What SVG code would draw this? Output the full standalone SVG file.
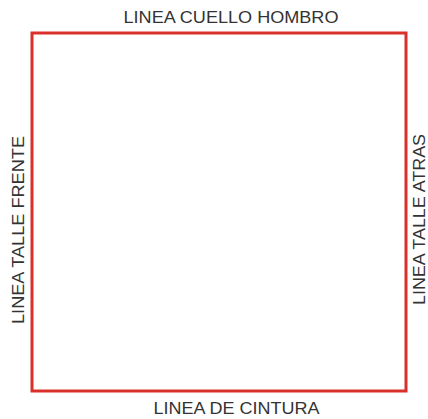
<svg xmlns="http://www.w3.org/2000/svg" width="428" height="419" viewBox="0 0 428 419">
<style>
.lbl{font-family:"Liberation Sans",Arial,sans-serif;font-size:16px;fill:#333333}
.frame{fill:none;stroke:#d9302a;stroke-width:3}
</style>
<rect width="428" height="419" fill="#ffffff"/>
<g id="frame"><rect class="frame" x="32" y="33" width="374" height="358"/></g>
<g id="labels">
<text class="lbl" x="231" y="22.5" text-anchor="middle" textLength="215" lengthAdjust="spacingAndGlyphs">LINEA CUELLO HOMBRO</text>
<text class="lbl" x="236.5" y="414" text-anchor="middle" textLength="166" lengthAdjust="spacingAndGlyphs">LINEA DE CINTURA</text>
<text class="lbl" transform="translate(23.5,230) rotate(-90)" text-anchor="middle" textLength="188" lengthAdjust="spacingAndGlyphs">LINEA TALLE FRENTE</text>
<text class="lbl" transform="translate(425,219.5) rotate(-90)" text-anchor="middle" textLength="171" lengthAdjust="spacingAndGlyphs">LINEA TALLE ATRAS</text>
</g>
</svg>
